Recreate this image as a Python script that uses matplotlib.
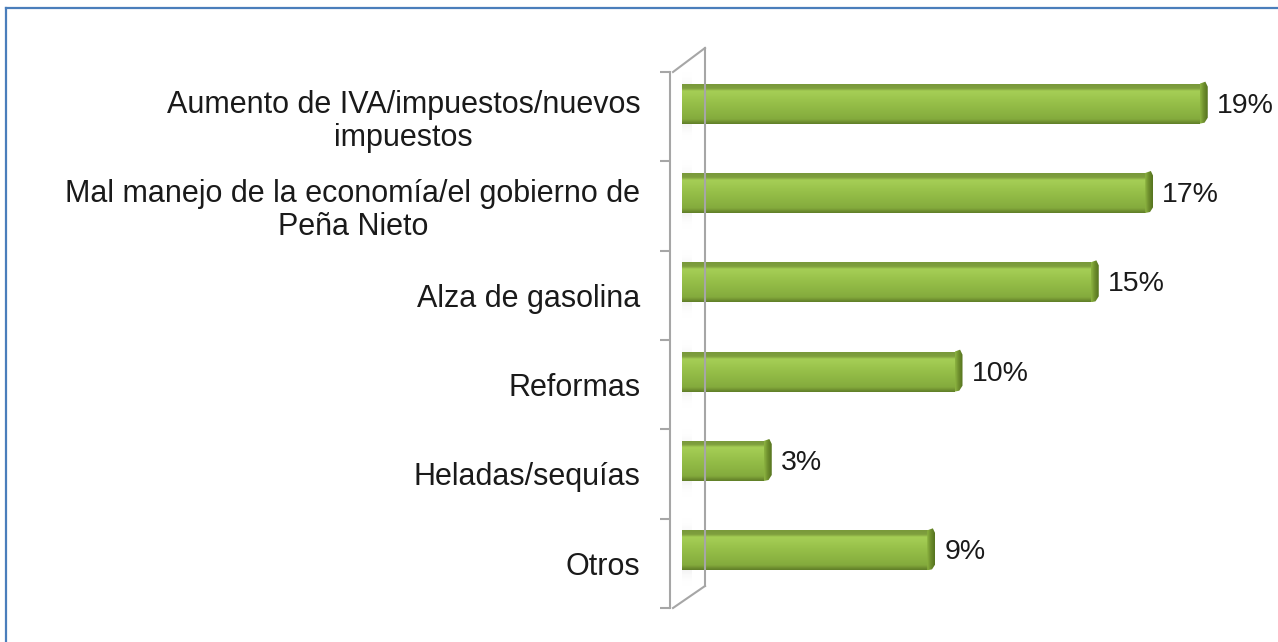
import numpy as np
import matplotlib
matplotlib.use('Agg')
import matplotlib.pyplot as plt
from matplotlib.patches import Rectangle, Polygon
from matplotlib.lines import Line2D
from matplotlib.colors import LinearSegmentedColormap

plt.rcParams['font.family'] = ['Liberation Sans', 'DejaVu Sans']

categories = ['Aumento de IVA/impuestos/nuevos\nimpuestos',
              'Mal manejo de la economía/el gobierno de\nPeña Nieto',
              'Alza de gasolina',
              'Reformas',
              'Heladas/sequías',
              'Otros']
values = [19, 17, 15, 10, 3, 9]
value_labels = ['19%', '17%', '15%', '10%', '3%', '9%']

W, H = 1278, 642
fig = plt.figure(figsize=(W / 100, H / 100), dpi=100)

# axes placed in pixel units
left_px, right_px, top_px, bot_px = 682, 1227, 72, 608
ax = fig.add_axes([left_px / W, 1 - bot_px / H, (right_px - left_px) / W, (bot_px - top_px) / H])
ax.set_xlim(0, 20)
ax.set_ylim(len(categories) - 0.5, -0.5)

px_x = 20 / (right_px - left_px)        # data units per pixel (x)
px_y = len(categories) / (bot_px - top_px)  # data units per pixel (y)

shift = -13 * px_y      # 3d offset of the bar face
bh = 40 * px_y
cap = 8 * px_x
topband = 5 * px_y

face_cmap = LinearSegmentedColormap.from_list('face', [
    (0.0, '#79993a'), (0.11, '#7f9f3e'), (0.17, '#a6cf56'),
    (0.5, '#95be48'), (0.88, '#84ab3d'), (0.95, '#6f8f30'), (1.0, '#5f7d27')])
cap_cmap = LinearSegmentedColormap.from_list('cap', ['#8db541', '#6c8c2c', '#56731f'])
shade_cmap = LinearSegmentedColormap.from_list('shade', [(1, 1, 1, 0), (0.62, 0.62, 0.62, 0.55), (1, 1, 1, 0)])

grad_v = np.linspace(0, 1, 200).reshape(-1, 1)
grad_h = np.linspace(0, 1, 50).reshape(1, -1)

for i, v in enumerate(values):
    yc = i + shift
    y0, y1 = yc - bh / 2, yc + bh / 2
    # shadow on the back wall
    ax.imshow(grad_v, cmap=shade_cmap, aspect='auto',
              extent=(0, 10 * px_x, y1 + 16 * px_y, y0 - 12 * px_y),
              interpolation='bicubic', zorder=1)
    # front face
    rect = Rectangle((0, y0), v, bh, facecolor='none', edgecolor='none')
    ax.add_patch(rect)
    im = ax.imshow(grad_v, cmap=face_cmap, aspect='auto', extent=(0, v, y1, y0),
                   interpolation='bicubic', zorder=2)
    im.set_clip_path(rect)
    # right cap (3d side)
    capp = Polygon([(v, y0), (v + cap * 0.7, y0 - topband * 0.4), (v + cap, y0 + topband * 0.6),
                    (v + cap, y1 - topband * 1.2), (v + cap * 0.6, y1 - topband * 0.2), (v, y1)],
                   closed=True, facecolor='none', edgecolor='none')
    ax.add_patch(capp)
    im2 = ax.imshow(grad_h, cmap=cap_cmap, aspect='auto', extent=(v, v + cap, y1, y0 - topband),
                    interpolation='bicubic', zorder=2)
    im2.set_clip_path(capp)
    ax.text(v + cap + 9 * px_x, yc + 2 * px_y, value_labels[i], ha='left', va='center',
            fontsize=20.5, color='#1a1a1a')

# axis styling
for s in ['top', 'right', 'bottom']:
    ax.spines[s].set_visible(False)
ax.spines['left'].set_position(('outward', 9))
ax.spines['left'].set_color('#a6a6a6')
ax.spines['left'].set_linewidth(1.5)
ax.set_xticks([])
ax.set_yticks(range(len(categories)))
ax.set_yticklabels(categories, multialignment='center', fontsize=22, color='#1a1a1a',
                   linespacing=1.12)
ax.tick_params(axis='y', which='major', length=0, pad=21)
ax.set_yticks(np.arange(-0.5, len(categories), 1), minor=True)
ax.tick_params(axis='y', which='minor', length=7, width=1.5, color='#a6a6a6')
ax.patch.set_alpha(0)

# back wall of the 3d axis
wall = '#a6a6a6'
fx = lambda x: x / W
fy = lambda y: 1 - y / H
for (xa, ya), (xb, yb) in [((673, 72), (705, 48)), ((705, 48), (705, 586)), ((673, 608), (705, 586))]:
    fig.add_artist(Line2D([fx(xa), fx(xb)], [fy(ya), fy(yb)], color=wall, lw=1.5))

# outer frame (top and left edges visible)
fig.add_artist(Line2D([fx(6), fx(W)], [fy(8), fy(8)], color='#4a7ebb', lw=1.6))
fig.add_artist(Line2D([fx(6), fx(6)], [fy(8), fy(H)], color='#4a7ebb', lw=1.6))

fig.savefig('out.png', dpi=100, facecolor='white')
